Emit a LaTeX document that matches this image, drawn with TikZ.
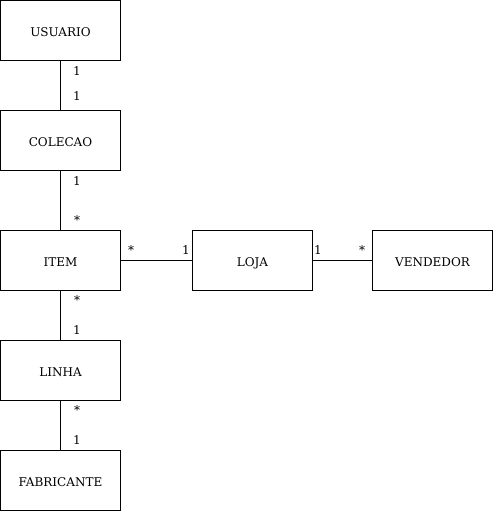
\documentclass[tikz,border=0pt]{standalone}
\usepackage{fontspec}
\setmainfont{DejaVu Serif}
\usepackage{tikz}

\begin{document}
\begin{tikzpicture}[x=1pt,y=-1pt,font=\fontsize{12}{14}\selectfont,
  ent/.style={draw,line width=0.8pt,minimum width=120pt,minimum height=60pt,inner sep=0pt,text height=12pt,text depth=0pt},
  card/.style={inner sep=0pt,font=\fontsize{12}{14}\selectfont}]
  \useasboundingbox (0,0) rectangle (493,511);
  % entities
  \node[ent] (usuario) at (60.5,30.5) {USUARIO};
  \node[ent] (colecao) at (60.5,140.5) {COLECAO};
  \node[ent] (item) at (60.5,260.5) {ITEM};
  \node[ent] (loja) at (252.5,260.5) {LOJA};
  \node[ent] (vendedor) at (432.5,260.5) {VENDEDOR};
  \node[ent] (linha) at (60.5,370.5) {LINHA};
  \node[ent] (fabricante) at (60.5,480.5) {FABRICANTE};
  % links
  \draw[line width=0.8pt] (usuario) -- (colecao);
  \draw[line width=0.8pt] (colecao) -- (item);
  \draw[line width=0.8pt] (item) -- (linha);
  \draw[line width=0.8pt] (linha) -- (fabricante);
  \draw[line width=0.8pt] (item) -- (loja);
  \draw[line width=0.8pt] (loja) -- (vendedor);
  % multiplicities
  \node[card] (c1) at (77,71) {1};
  \node[card] (c2) at (77,96) {1};
  \node[card] (c3) at (77,181) {1};
  \node[card] (c4) at (77,220) {*};
  \node[card] (c5) at (77,300) {*};
  \node[card] (c6) at (77,330) {1};
  \node[card] (c7) at (77,410) {*};
  \node[card] (c8) at (77,440) {1};
  \node[card] (c9) at (131,250) {*};
  \node[card] (c10) at (186,250) {1};
  \node[card] (c11) at (318,250) {1};
  \node[card] (c12) at (362,250) {*};
\end{tikzpicture}
\end{document}
